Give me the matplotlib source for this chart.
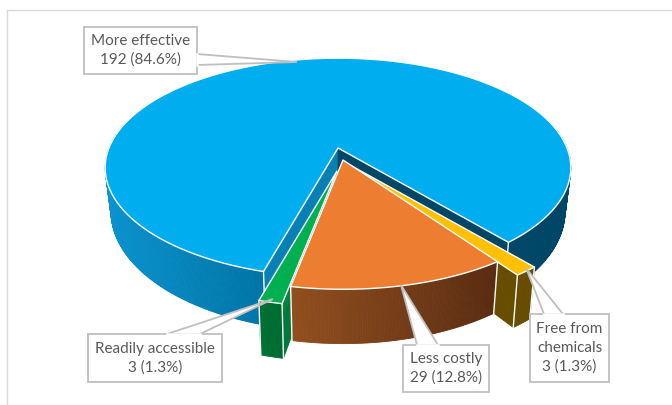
import numpy as np
import matplotlib
matplotlib.use("Agg")
import matplotlib.pyplot as plt
from matplotlib.colors import to_rgb
from matplotlib.patches import Polygon

plt.rcParams['font.family'] = ['Lato', 'DejaVu Sans']

# ============ DATA ==============
categories = ["More effective", "Free from\nchemicals", "Less costly", "Readily accessible"]
values = [192, 3, 29, 3]
percents = ["84.6%", "1.3%", "12.8%", "1.3%"]

# ============ STYLE / GEOMETRY ==============
START_ANGLE = 195.6   # clockwise from the top
RX, RY, PERSP, DEPTH = 229, 106, 0.18, 42
BOTTOM_SHRINK = 0.975  # lower rim is a bit narrower than the top one

vertex = [(338, 148), (350, 165), (343, 160), (337, 171)]
radius = [1.0, 1.07, 1.0, 1.04]
top_col = ["#00AEEF", "#FFC000", "#ED7D31", "#00B050"]
wall_start = ["#004666", "#664D00", "#5E2F12", "#00843F"]
wall_end = ["#0680B5", "#664D00", "#5E2F12", "#007A3A"]
side_left = ["#0A93CE", "#664D00", "#924F1E", "#007035"]
side_right = ["#0074A6", "#664D00", "#5A2C12", "#006B30"]
BLUE_DARK = "#004666"
EDGE_COL = "#FFFFFF"
GREY = "#BFBFBF"
TXT = "#595959"

# label box (x0, y0, x1, y1), pointer tip, pointer base on the box
boxes = [
    (84, 27, 197, 74),
    (530, 314, 609, 382),
    (403, 345, 489, 392),
    (88, 334, 222, 382),
]
tips = [(297, 62), (526, 268), (401, 285), (273, 299)]
bases = [
    [(197, 54), (197, 65)],
    [(544, 314), (563, 314)],
    [(417, 345), (438, 345)],
    [(167, 334), (200, 334)],
]


def project(theta, r, vx, vy, down=0.0):
    # theta in degrees clockwise from top, simple perspective on the disk
    t = np.radians(theta)
    u, v = r * np.sin(t), -r * np.cos(t)
    w = 1 - PERSP * v
    shrink = BOTTOM_SHRINK if down else 1.0
    return vx + shrink * RX * u / w, vy + RY * v / w + down / w ** 1.3


def gradient_band(ax, x0, y0, x1, y1, left, right, xmin, xmax):
    # band between two polylines, shaded by screen x
    c0, c1 = np.array(to_rgb(left)), np.array(to_rgb(right))
    for i in range(len(x0) - 1):
        f = np.clip((0.5 * (x0[i] + x0[i + 1]) - xmin) / (xmax - xmin), 0, 1)
        col = c0 + (c1 - c0) * f
        ax.add_patch(Polygon([(x0[i], y0[i]), (x0[i + 1], y0[i + 1]), (x1[i + 1], y1[i + 1]), (x1[i], y1[i])],
                             closed=True, fc=col, ec=col, lw=0.6))


def draw_slice(ax, i, a0, a1):
    vx, vy = vertex[i]
    r = radius[i]
    th = np.linspace(a0, a1, max(int(a1 - a0) * 2, 6))
    xt, yt = project(th, r, vx, vy)
    xb, yb = project(th, r, vx, vy, DEPTH)

    # radial walls first
    ends = [(xt[0], yt[0], xb[0], yb[0], wall_end[i]), (xt[-1], yt[-1], xb[-1], yb[-1], wall_start[i])]
    for xa, ya, xc, yc, col in ends:
        ax.add_patch(Polygon([(vx, vy), (xa, ya), (xc, yc), (vx, vy + DEPTH)], closed=True,
                             fc=col, ec=col, lw=0.5))

    # outer arc, only the part facing the viewer
    t = np.mod(th, 360)
    if i == 0:
        # the big slice wraps round the back, so left and right front parts are separate
        left = (t >= 195) & (t < 285)
        right = (t > 75) & (t <= 140.5)
        gradient_band(ax, xt[left], yt[left], xb[left], yb[left], side_left[i], side_right[i], 104, 262)
        gradient_band(ax, xt[right], yt[right], xb[right], yb[right], BLUE_DARK, BLUE_DARK, 505, 570)
    else:
        gradient_band(ax, xt, yt, xb, yb, side_left[i], side_right[i], xt.min(), xt.max())

    # white edges going down at both outer corners, kept in the patch layer
    ax.plot([xt[0], xb[0]], [yt[0], yb[0]], color=EDGE_COL, lw=1.0, zorder=1)
    ax.plot([xt[-1], xb[-1]], [yt[-1], yb[-1]], color=EDGE_COL, lw=1.0, zorder=1)

    # top face
    ax.add_patch(Polygon(np.c_[np.r_[vx, xt], np.r_[vy, yt]], closed=True,
                         fc=top_col[i], ec=EDGE_COL, lw=1.0, joinstyle="round"))


def draw_label(ax, i):
    x0, y0, x1, y1 = boxes[i]
    ax.add_patch(Polygon([(x0, y0), (x1, y0), (x1, y1), (x0, y1)], closed=True, fc="white", ec=GREY, lw=1.3, zorder=5))
    (b0x, b0y), (b1x, b1y) = bases[i]
    ax.add_patch(Polygon([(b0x, b0y), tips[i], (b1x, b1y)], closed=True, fc="white", ec=GREY, lw=1.3, zorder=5))
    # hide the box edge under the pointer mouth
    ax.plot([b0x, b1x], [b0y, b1y], color="white", lw=1.8, zorder=6)
    txt = f"{categories[i]}\n{values[i]} ({percents[i]})"
    ax.text((x0 + x1) / 2, (y0 + y1) / 2, txt, ha="center", va="center", color=TXT,
            fontsize=11, linespacing=1.4, zorder=7)


fig = plt.figure(figsize=(6.72, 4.05), dpi=100)
ax = fig.add_axes([0, 0, 1, 1])
ax.set_xlim(0, 672)
ax.set_ylim(405, 0)
ax.axis("off")

# chart frame, right side is cropped off in the original
ax.plot([7, 7, 672], [405, 10, 10], color="#D9D9D9", lw=1.0)

# slice angles come from the values
spans = 360 * np.array(values) / sum(values)
starts = START_ANGLE + np.r_[0, np.cumsum(spans)[:-1]]

# painter's order: blue, yellow, green, orange
for i in [0, 1, 3, 2]:
    draw_slice(ax, i, starts[i], starts[i] + spans[i])

for i in range(len(values)):
    draw_label(ax, i)

fig.savefig("out.png", dpi=100)
